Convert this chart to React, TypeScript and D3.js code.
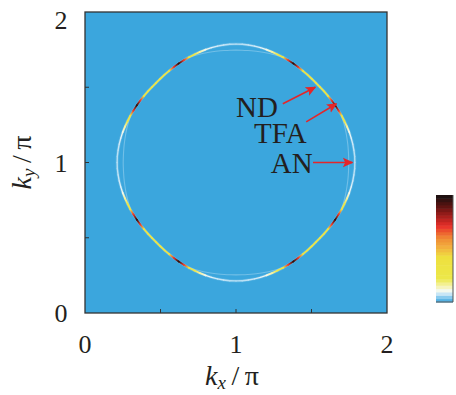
import React from "react";
import * as d3 from "d3";

// first quadrant of the contour, angle in degrees from the kx axis, radius in units of pi
const ANGLES = [0, 3, 6, 9, 12, 15, 18, 21, 24, 27, 30, 33, 36, 39, 42, 45, 48, 51, 54, 57, 60, 63, 66, 69, 72, 75, 78, 81, 84, 87, 90];
const RADIUS = [0.787, 0.787, 0.785, 0.783, 0.78, 0.777, 0.773, 0.769, 0.766, 0.762, 0.759, 0.756, 0.753, 0.751, 0.749, 0.748, 0.749, 0.751, 0.753, 0.756, 0.759, 0.762, 0.766, 0.769, 0.773, 0.777, 0.78, 0.783, 0.785, 0.787, 0.787];
const INTENSITY = [0.07, 0.07, 0.075, 0.08, 0.09, 0.11, 0.16, 0.25, 0.33, 0.7, 0.97, 0.7, 0.33, 0.29, 0.28, 0.28, 0.28, 0.29, 0.33, 0.7, 0.97, 0.7, 0.33, 0.25, 0.16, 0.11, 0.09, 0.08, 0.075, 0.07, 0.07];

// faint inner line around each antinode
const SHADOW_OFFSETS = [-24, -21, -18, -15, -12, -9, -6, -3, 0, 3, 6, 9, 12, 15, 18, 21, 24];
const SHADOW_RADIUS = [0.764, 0.761, 0.758, 0.755, 0.752, 0.75, 0.748, 0.747, 0.747, 0.747, 0.748, 0.75, 0.752, 0.755, 0.758, 0.761, 0.764];
const ANTINODES = [0, 90, 180, 270];

const TICK_VALUES = [0, 1, 2];
const TICK_LABELS = ["0", "1", "2"];
const MINOR_TICKS = [0.5, 1, 1.5];
const MARKER_LABELS = ["ND", "TFA", "AN"];

const COLOR_STOPS = [0, 0.05, 0.1, 0.15, 0.22, 0.42, 0.5, 0.6, 0.71, 0.8, 0.9, 1];
const COLOR_RANGE = ["#3ba6dd", "#8fcdef", "#f4fafc", "#f6f3b0", "#ece84a", "#eee03e", "#f2b640", "#f08a34", "#e8302a", "#a81e1c", "#5a1210", "#141010"];

const W = 456;
const H = 395;
const LEFT = 85;
const RIGHT = 387;
const TOP = 12;
const BOTTOM = 313;
const INK = "#231f20";
const ARROW = "#e4262a";
const SERIF = "'Liberation Serif', 'DejaVu Serif', serif";

export default function App() {
  const x = d3.scaleLinear().domain([0, 2]).range([LEFT, RIGHT]);
  const y = d3.scaleLinear().domain([0, 2]).range([BOTTOM, TOP]);
  const color = d3.scaleLinear<string>().domain(COLOR_STOPS).range(COLOR_RANGE).interpolate(d3.interpolateRgb).clamp(true);

  const toXY = (deg: number, r: number): [number, number] => {
    const a = (deg * Math.PI) / 180;
    return [x(1 + r * Math.cos(a)), y(1 + r * Math.sin(a))];
  };

  const quadrants = [
    (a: number) => a,
    (a: number) => 180 - a,
    (a: number) => 180 + a,
    (a: number) => 360 - a,
  ];

  const segments: { x1: number; y1: number; x2: number; y2: number; c1: string; c2: string; w: number }[] = [];
  quadrants.forEach((map) => {
    for (let i = 0; i < ANGLES.length - 1; i++) {
      const [x1, y1] = toXY(map(ANGLES[i]), RADIUS[i]);
      const [x2, y2] = toXY(map(ANGLES[i + 1]), RADIUS[i + 1]);
      const v = (INTENSITY[i] + INTENSITY[i + 1]) / 2;
      segments.push({ x1, y1, x2, y2, c1: color(INTENSITY[i]), c2: color(INTENSITY[i + 1]), w: v < 0.12 ? 1.35 : 1.8 });
    }
  });
  const allPts: [number, number][] = [];
  [0, 1, 2, 3].forEach((q) => {
    ANGLES.forEach((a, i) => {
      const idx = q % 2 === 0 ? i : ANGLES.length - 1 - i;
      allPts.push(toXY(q * 90 + a, RADIUS[idx]));
    });
  });

  const line = d3.line().curve(d3.curveCatmullRom);
  const glowPath = d3.line().curve(d3.curveCatmullRomClosed)(allPts) || "";

  const shadowPaths = ANTINODES.map((c) =>
    line(SHADOW_OFFSETS.map((o, i) => toXY(c + o, SHADOW_RADIUS[i]))) || ""
  );

  // colorbar
  const cbX = 436;
  const cbW = 17;
  const cb = d3.scaleLinear().domain([0, 1]).range([302, 195]);
  const bands = d3.range(32).map((i) => i / 32);

  // annotations (data coordinates)
  const labelPos = [
    { tx: 1.0, ty: 1.305 },
    { tx: 1.12, ty: 1.13 },
    { tx: 1.23, ty: 0.93 },
  ];
  const arrows = [
    { x1: 1.31, y1: 1.39, x2: 1.525, y2: 1.5 },
    { x1: 1.465, y1: 1.27, x2: 1.665, y2: 1.39 },
    { x1: 1.51, y1: 1.0, x2: 1.77, y2: 1.0 },
  ];

  return (
    <svg width={W} height={H} style={{ position: "absolute", left: 0, top: 0, background: "#fff" }}>
      <defs>
        <marker id="head" viewBox="0 0 10 10" refX="9" refY="5" markerWidth="6.5" markerHeight="6.5" orient="auto" markerUnits="strokeWidth">
          <path d="M0,0.5 L10,5 L0,9.5 L2.2,5 Z" fill={ARROW} />
        </marker>
        {segments.map((s, i) => (
          <linearGradient key={i} id={`g${i}`} gradientUnits="userSpaceOnUse" x1={s.x1} y1={s.y1} x2={s.x2} y2={s.y2}>
            <stop offset="0" stopColor={s.c1} />
            <stop offset="1" stopColor={s.c2} />
          </linearGradient>
        ))}
      </defs>

      <rect x={LEFT} y={TOP} width={RIGHT - LEFT} height={BOTTOM - TOP} fill={COLOR_RANGE[0]} />

      <path d={glowPath} fill="none" stroke="#d6ecf9" strokeWidth={3} opacity={0.18} />
      {shadowPaths.map((d, i) => (
        <path key={i} d={d} fill="none" stroke="#b4def4" strokeWidth={1.1} opacity={0.45} />
      ))}
      {segments.map((s, i) => (
        <line key={i} x1={s.x1} y1={s.y1} x2={s.x2} y2={s.y2} stroke={`url(#g${i})`} strokeWidth={s.w} strokeLinecap="round" />
      ))}

      {/* frame and ticks */}
      <rect x={LEFT} y={TOP} width={RIGHT - LEFT} height={BOTTOM - TOP} fill="none" stroke="#333" strokeWidth={1.3} />
      {MINOR_TICKS.map((t) => (
        <g key={t}>
          <line x1={x(t)} x2={x(t)} y1={BOTTOM} y2={BOTTOM - 4} stroke="#333" strokeWidth={1} />
          <line x1={LEFT} x2={LEFT + 4} y1={y(t)} y2={y(t)} stroke="#333" strokeWidth={1} />
        </g>
      ))}
      {TICK_VALUES.map((t, i) => (
        <text key={"x" + t} x={x(t)} y={353} textAnchor="middle" fontFamily={SERIF} fontSize={26} fill={INK}>
          {TICK_LABELS[i]}
        </text>
      ))}
      {TICK_VALUES.map((t, i) => (
        <text key={"y" + t} x={61} y={Math.max(y(t), 20) + 9} textAnchor="middle" fontFamily={SERIF} fontSize={26} fill={INK}>
          {TICK_LABELS[i]}
        </text>
      ))}

      <text x={x(1) - 4} y={385} textAnchor="middle" fontFamily={SERIF} fontSize={28} fill={INK}>
        <tspan fontStyle="italic">k</tspan>
        <tspan fontStyle="italic" fontSize={19} dy={4}>x</tspan>
        <tspan dy={-4}>{"\u2009/\u2009π"}</tspan>
      </text>
      <text transform={`translate(31,${y(1)}) rotate(-90)`} textAnchor="middle" fontFamily={SERIF} fontSize={28} fill={INK}>
        <tspan fontStyle="italic">k</tspan>
        <tspan fontStyle="italic" fontSize={19} dy={4}>y</tspan>
        <tspan dy={-4}>{"\u2009/\u2009π"}</tspan>
      </text>

      {/* annotations */}
      {arrows.map((a, i) => (
        <line key={i} x1={x(a.x1)} y1={y(a.y1)} x2={x(a.x2)} y2={y(a.y2)} stroke={ARROW} strokeWidth={1.6} markerEnd="url(#head)" />
      ))}
      {MARKER_LABELS.map((m, i) => (
        <text key={m} x={x(labelPos[i].tx)} y={y(labelPos[i].ty)} fontFamily={SERIF} fontSize={29} fill={INK}>
          {m}
        </text>
      ))}

      {/* colorbar */}
      {bands.map((b) => (
        <rect key={b} x={cbX} y={cb(b + 1 / 32)} width={cbW} height={cb(b) - cb(b + 1 / 32) + 0.5} fill={color(b + 1 / 64)} />
      ))}
      <line x1={cbX + cbW} x2={cbX + cbW} y1={195} y2={302} stroke="#555" strokeWidth={1} />
      <line x1={cbX} x2={cbX + cbW} y1={302} y2={302} stroke="#555" strokeWidth={1} />
    </svg>
  );
}
